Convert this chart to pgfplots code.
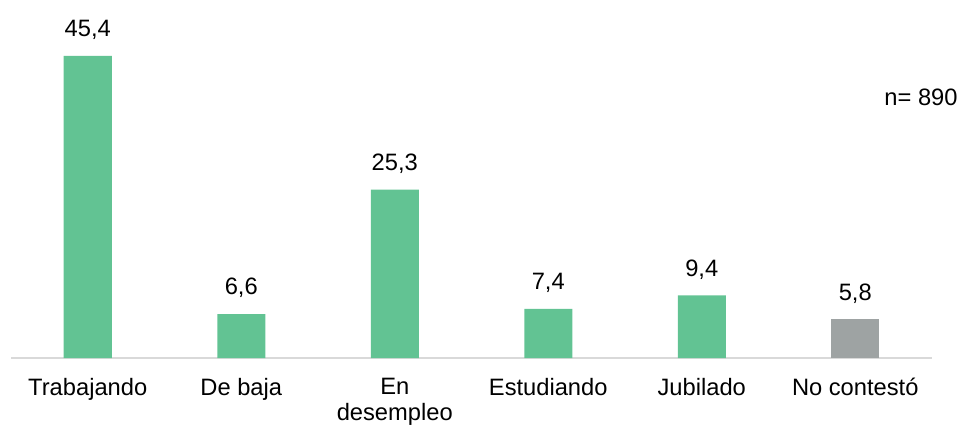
\documentclass[border=0pt]{standalone}
\usepackage{pgfplots}
\pgfplotsset{compat=1.18}
\usepackage{fontspec}
\setmainfont{Liberation Sans}
\definecolor{bargreen}{HTML}{62C393}
\definecolor{bargray}{HTML}{9EA3A3}
\definecolor{axisgray}{HTML}{D9D9D9}
\begin{document}
\begin{tikzpicture}[font=\fontsize{11.85bp}{13bp}\selectfont]
\begin{axis}[
  name=ax,
  scale only axis,
  width=460.5bp, height=166.3bp,
  xmin=-0.5, xmax=5.5, ymin=0, ymax=50,
  clip=false,
  axis x line*=bottom,
  axis y line=none,
  x axis line style={-, axisgray, line width=1bp},
  xtick={0,1,2,3,4,5},
  xticklabels={Trabajando, De baja, {En\\desempleo}, Estudiando, Jubilado, No contestó},
  xticklabel style={align=center, anchor=north, inner sep=0pt, yshift=-10bp, text=black},
  major tick length=0pt,
  ytick=\empty,
  ybar, bar width=24bp,
  /pgf/number format/use comma,
  /pgf/number format/fixed,
  /pgf/number format/fixed zerofill,
  /pgf/number format/precision=1,
  /pgf/number format/assume math mode=true,
  nodes near coords,
  every node near coord/.append style={anchor=south, inner sep=0pt, text depth=0pt, yshift=9.5bp, text=black},
]
% employment situation, percent of respondents
\addplot[fill=bargreen, draw=none, bar shift=0pt] coordinates {(0,45.4) (1,6.6) (2,25.3) (3,7.4) (4,9.4)};
\addplot[fill=bargray, draw=none, bar shift=0pt] coordinates {(5,5.8)};
\end{axis}
\node[anchor=base east, inner sep=0pt] at ([shift={(473.5bp,126bp)}]ax.south west) {n= 890};
\pgfresetboundingbox
\path[use as bounding box] ([shift={(-5.5bp,-33.5bp)}]ax.south west) rectangle ++(481bp,212.5bp);
\end{tikzpicture}
\end{document}
